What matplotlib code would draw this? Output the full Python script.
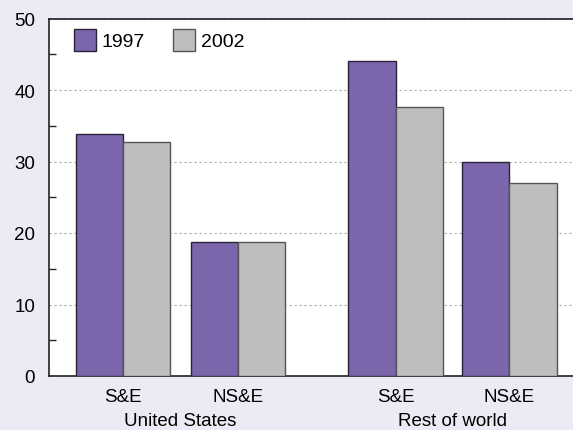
import numpy as np
import matplotlib.pyplot as plt

plt.rcParams['font.family'] = ['Liberation Sans', 'DejaVu Sans']

# data
regions = ["United States", "Rest of world"]
fields = ["S&E", "NS&E", "S&E", "NS&E"]
years = ["1997", "2002"]
vals_1997 = [33.9, 18.7, 44.0, 30.0]
vals_2002 = [32.7, 18.7, 37.6, 27.0]

bg = '#ECEAF4'
purple = '#7B66AC'
grey = '#BDBEC0'

# group positions (wider gap between regions)
x = np.array([0, 1, 2.37, 3.36])
w = 0.41

fig = plt.figure(figsize=(5.73, 4.31), dpi=100, facecolor=bg)
ax = fig.add_axes([49/573, 54/431, 1 - 49/573, (377 - 19.5)/431])
ax.set_facecolor('white')

ax.bar(x - w/2, vals_1997, w, color=purple, edgecolor='#2a2238', linewidth=1, label=years[0], zorder=3)
ax.bar(x + w/2, vals_2002, w, color=grey, edgecolor='#555555', linewidth=1, label=years[1], zorder=3)

ax.set_xlim(-0.643, 3.913)
ax.set_ylim(0, 50)

ax.set_yticks([0, 10, 20, 30, 40, 50])
ax.set_yticks([5, 15, 25, 35, 45], minor=True)
ax.tick_params(axis='y', which='major', length=0, pad=10, labelsize=13.5)
ax.tick_params(axis='y', which='minor', direction='in', length=5, width=1, color='#222222')
ax.yaxis.grid(True, which='major', linestyle=(0, (2, 2.5)), color='#aaaaaa', linewidth=0.8, zorder=0)

ax.set_xticks(x)
ax.set_xticklabels(fields, fontsize=13.5)
ax.tick_params(axis='x', length=0, pad=9)

# region labels under the field labels
for i, name in enumerate(regions):
    cx = (x[2*i] + x[2*i + 1]) / 2
    ax.text(cx, -0.102, name, transform=ax.get_xaxis_transform(), ha='center', va='top', fontsize=13.5)

for s in ['left', 'top', 'bottom']:
    ax.spines[s].set_color('#222222')
    ax.spines[s].set_linewidth(1.2)
ax.spines['right'].set_visible(False)

leg = ax.legend(loc='upper left', ncol=2, frameon=False, fontsize=14,
                handlelength=1.13, handleheight=1.35, columnspacing=1.45,
                handletextpad=0.3, borderpad=0, borderaxespad=0,
                bbox_to_anchor=((74 - 49) / 524, 1 - (30 - 19.5) / 357.5))

fig.savefig('out.png', dpi=100, facecolor=bg)
